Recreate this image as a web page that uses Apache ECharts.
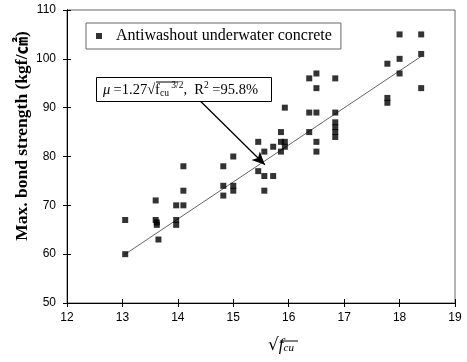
<!DOCTYPE html>
<html>
<head>
<meta charset="utf-8">
<script src="https://cdn.jsdelivr.net/npm/echarts@6/dist/echarts.min.js"></script>
<style>html,body{margin:0;padding:0;background:#fff}#c{width:467px;height:362px}</style>
</head>
<body>
<div id="c"></div>
<script>
// Data
const sqrtFcu = [13.05,13.05, 13.6,13.6,13.62,13.62,13.65, 13.97,13.97,13.97, 14.1,14.1,14.1,
  14.82,14.82,14.82, 15.0,15.0,15.0, 15.45,15.45, 15.56,15.56,15.56, 15.72,15.72,
  15.86,15.86,15.86, 15.93,15.93,15.93, 16.37,16.37,16.37, 16.5,16.5,16.5,16.5,16.5,
  16.84,16.84,16.84,16.84,16.84,16.84, 17.78,17.78,17.78, 18.0,18.0,18.0, 18.39,18.39,18.39];
const bondStrength = [60,67, 71,67,66.5,66,63, 70,67,66, 70,73,78,
  78,74,72, 80,74,73, 83,77, 81,76,73, 82,76,
  85,83,81, 90,83,82, 96,89,85, 97,94,89,83,81,
  96,89,87,86,85,84, 99,92,91, 105,100,97, 105,101,94];
const trendX = [13.05, 18.39];
const trendY = [60, 100.5];
const arrowFrom = [14.4, 91.4];
const arrowTo = [15.57, 78.3];
const xTicks = [12,13,14,15,16,17,18,19];
const yTicks = [50,60,70,80,90,100,110];
const seriesName = 'Antiwashout underwater concrete';
const yName = 'Max. bond strength (kgf/㎠)';

const points = sqrtFcu.map((x,i)=>[x,bondStrength[i]]);
const trend = trendX.map((x,i)=>[x,trendY[i]]);

const chart = echarts.init(document.getElementById('c'));
const tickFont = {fontFamily:'Liberation Sans, Arial, sans-serif', fontSize:12, color:'#000'};
const baseX = {type:'value', min:xTicks[0], max:xTicks[xTicks.length-1], interval:1,
  axisLine:{show:true,lineStyle:{color:'#000',width:1}}, splitLine:{show:false}};
const baseY = {type:'value', min:yTicks[0], max:yTicks[yTicks.length-1], interval:10,
  axisLine:{show:true,lineStyle:{color:'#000',width:1}}, splitLine:{show:false}};
chart.setOption({
  animation:false,
  backgroundColor:'#fff',
  grid:{left:67,right:12,top:10,bottom:59,show:true,borderColor:'#666',borderWidth:1},
  legend:{show:true,left:86,top:23,data:[seriesName],
    padding:[5,9,5,10],borderColor:'#666',borderWidth:1,
    icon:'rect',itemWidth:6,itemHeight:6,itemGap:6,
    textStyle:{fontFamily:'Liberation Serif, Times New Roman, serif',fontSize:16,color:'#000',padding:[0,0,0,9]}},
  xAxis:[
    Object.assign({}, baseX, {axisTick:{show:true,length:4,lineStyle:{color:'#000'}},
      axisLabel:Object.assign({margin:9}, tickFont)}),
    Object.assign({}, baseX, {position:'bottom', axisTick:{show:true,inside:true,length:4,lineStyle:{color:'#000'}},
      axisLabel:{show:false}})
  ],
  yAxis:[
    Object.assign({}, baseY, {axisTick:{show:true,length:4,lineStyle:{color:'#000'}},
      axisLabel:Object.assign({margin:11}, tickFont)}),
    Object.assign({}, baseY, {position:'left', axisTick:{show:true,inside:true,length:4,lineStyle:{color:'#000'}},
      axisLabel:{show:false}})
  ],
  series:[
    {name:seriesName, type:'scatter', data:points, symbol:'rect', symbolSize:6,
      itemStyle:{color:'#000'},
      markLine:{silent:true, symbol:['none','arrow'], symbolSize:[9,13],
        lineStyle:{color:'#000',width:1.3,type:'solid'}, label:{show:false},
        data:[[{coord:arrowFrom},{coord:arrowTo}]]}},
    {name:'trend', type:'line', data:trend, showSymbol:false, symbol:'none',
      lineStyle:{color:'#666',width:1}, z:1}
  ],
  graphic:[
    {type:'text', x:22, y:136, rotation:Math.PI/2, z:60,
      style:{text:yName, align:'center', verticalAlign:'middle',
        font:'bold 17.5px "Liberation Serif", "Times New Roman", "Noto Sans CJK KR", serif', fill:'#000'}},
    {type:'rect', left:96, top:77, shape:{width:175,height:24},
      style:{fill:'#fff',stroke:'#000',lineWidth:1}, z:50},
    {type:'text', left:103, top:80, z:51,
      style:{rich:{
        a:{fontFamily:'Liberation Serif, serif',fontSize:14.5,color:'#000',lineHeight:18,verticalAlign:'bottom'},
        i:{fontFamily:'Liberation Serif, serif',fontStyle:'italic',fontSize:14.5,color:'#000',lineHeight:18,verticalAlign:'bottom'},
        s:{fontFamily:'Liberation Serif, serif',fontSize:9.5,color:'#000',lineHeight:18,verticalAlign:'bottom'},
        p:{fontFamily:'Liberation Serif, serif',fontSize:9.5,color:'#000',lineHeight:18,verticalAlign:'top'}
      }, text:'{i|μ} {a|=1.27√}{a|f}{s|cu}{p| 3/2}{a|,  R}{p|2}{a| =95.8%}'}},
    {type:'line', z:52, shape:{x1:156,y1:82,x2:178,y2:82}, style:{stroke:'#000',lineWidth:1}},
    {type:'text', left:268, top:337,
      style:{rich:{
        r:{fontFamily:'DejaVu Sans, sans-serif',fontSize:17,color:'#000',verticalAlign:'bottom',lineHeight:22},
        f:{fontFamily:'Liberation Serif, serif',fontStyle:'italic',fontSize:17,color:'#000',verticalAlign:'bottom',lineHeight:22},
        c:{fontFamily:'Liberation Serif, serif',fontStyle:'italic',fontSize:11,color:'#000',verticalAlign:'bottom',lineHeight:22}
      }, text:'{r|√}{f|f}{c|cu}'}},
    {type:'line', shape:{x1:280,y1:341,x2:298,y2:341}, style:{stroke:'#000',lineWidth:1}}
  ]
});
</script>
</body>
</html>
